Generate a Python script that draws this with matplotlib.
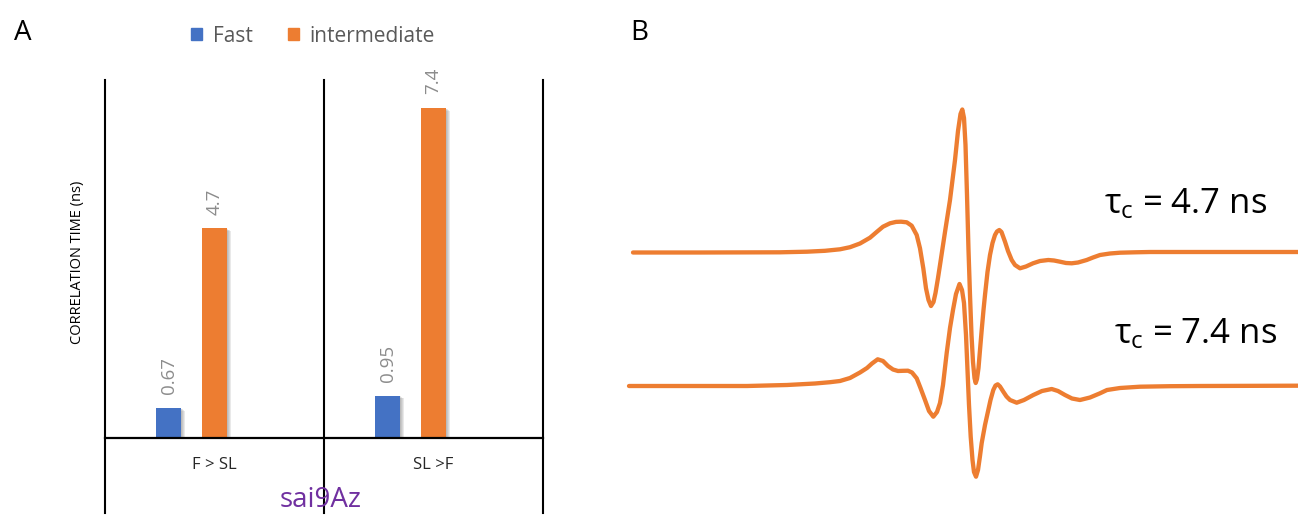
import matplotlib
matplotlib.use("Agg")
import matplotlib.pyplot as plt
import matplotlib.patheffects as pe
from matplotlib.patches import Patch

# ---- panel A data ----
groups = ["F > SL", "SL >F"]
fast = [0.67, 0.95]
intermediate = [4.7, 7.4]
value_labels_fast = ["0.67", "0.95"]
value_labels_int = ["4.7", "7.4"]

# ---- panel B data (field in a.u., intensity relative to baseline) ----
field_47 = [633, 700, 780, 807, 825, 840, 850, 860, 870, 877, 883, 890, 896, 901, 906.7,
            911.7, 916.7, 920, 923.3, 926, 928.5, 931, 933.5, 935.5, 938, 940, 945, 950,
            955, 958, 960.5, 962.3, 964, 965.5, 967, 968.5, 970, 971.5, 973, 974.5, 975.7,
            977, 978.5, 980, 981.7, 983.5, 985, 987.5, 990, 992.5, 995, 997, 999.3, 1001.5,
            1005, 1008, 1011.7, 1015, 1020, 1026, 1033, 1040, 1048.3, 1054, 1060, 1066,
            1071.7, 1078, 1086.7, 1093, 1100, 1110, 1120, 1135, 1150, 1200, 1298]
signal_47 = [0, 0, 0.2, 0.8, 1.7, 3.2, 5.3, 9, 14.8, 20.8, 25.8, 29.2, 30.6, 30.8, 30.2,
             26.8, 17.5, 4.2, -15.8, -35.8, -47.5, -53.5, -49.5, -40.5, -25.5, -12.5, 20.5, 52.5,
             92.5, 121.5, 138.5, 143, 134.5, 107.5, 57.5, 2.5, -42.5, -82.5, -109.5, -125.5, -130.5,
             -126.5, -115.5, -97.5, -77.5, -57.5, -42.5, -19.5, -2.5, 9.5, 17.5, 21, 22.5, 20.5,
             10.8, 1.5, -7.5, -12.5, -15.8, -14, -10.8, -8.5, -7.5, -8, -9.2, -10.5,
             -10.8, -10, -7.5, -5, -2.5, -1, -0.2, 0.2, 0.5, 0.5, 0.5]

field_74 = [629, 700, 747, 787, 815, 830, 840, 850, 860, 867, 872, 877.7, 883, 888, 893,
            898, 903, 908, 912, 916.7, 920.5, 925, 929, 933.3, 937, 940, 943, 946.7, 950,
            953, 956, 959.5, 962, 964, 966, 967.5, 969, 970.7, 972.5, 974, 976, 978, 980,
            981.7, 985, 988.3, 990.5, 993.3, 995.5, 997.7, 1000, 1003.3, 1006.5, 1010, 1016.7,
            1024, 1033.3, 1042, 1051.7, 1058, 1065, 1072, 1080, 1090, 1100, 1107, 1120, 1140,
            1170, 1200, 1298]
signal_74 = [0, 0, 0, 1, 2.5, 3.8, 5, 8, 13.5, 18, 22.5, 26.7, 25, 20, 16.5,
             15, 15.2, 15.3, 13.5, 7.7, -2, -14, -25, -30.7, -26, -17, 1, 33, 58,
             76, 92, 102, 96, 83, 51, 16, -19, -50.7, -74, -86, -90.7, -84, -70,
             -57, -39, -24, -14, -4, 0.5, 1.7, -0.5, -5.7, -10.5, -14, -16.7,
             -14, -9, -5, -3, -5, -9, -12.5, -14, -11.5, -7.3, -4, -2, -0.7,
             -0.2, 0, 0.3]

BLUE = "#4472C4"
ORANGE = "#ED7D31"
W, H = 1298, 523

plt.rcParams["font.family"] = ["Open Sans", "DejaVu Sans"]
plt.rcParams["mathtext.fontset"] = "custom"
plt.rcParams["mathtext.rm"] = "Open Sans"
plt.rcParams["mathtext.it"] = "Open Sans"

fig = plt.figure(figsize=(W / 100, H / 100), dpi=100)

# ---------------- panel A ----------------
ax = fig.add_axes([105 / W, (H - 438) / H, 438 / W, 358 / H])
ax.set_xlim(0, 2)
ax.set_ylim(0, 8.03)

centers = [0.5, 1.5]
bar_w = 0.11
# soft drop shadow, built from a few faint offset copies
shadow = [pe.SimplePatchShadow(offset=(o, -o * 0.6), shadow_rgbFace="#7a7a7a", alpha=0.16)
          for o in (3.2, 2.4, 1.6, 0.8)] + [pe.Normal()]
bars_f = ax.bar([c - 0.21 for c in centers], fast, width=bar_w, color=BLUE, path_effects=shadow, zorder=3)
bars_i = ax.bar(centers, intermediate, width=bar_w, color=ORANGE, path_effects=shadow, zorder=3)

for bars, labels in [(bars_f, value_labels_fast), (bars_i, value_labels_int)]:
    for b, lab in zip(bars, labels):
        ax.annotate(lab, xy=(b.get_x() + b.get_width() / 2, b.get_height()),
                    xytext=(0, 10), textcoords="offset points", rotation=90,
                    ha="center", va="bottom", fontsize=13.5, color="#8c8c8c")

for s in ax.spines.values():
    s.set_visible(False)
for xv in [0, 1, 2]:
    ax.axvline(xv, ymin=-0.21, ymax=1, color="black", lw=1.5, clip_on=False)
ax.axhline(0, color="black", lw=1.6, zorder=4, clip_on=False)

ax.set_yticks([])
ax.set_xticks(centers)
ax.set_xticklabels(groups, fontsize=12, color="#262626")
ax.tick_params(axis="x", length=0, pad=14)

fig.text(78 / W, 1 - 262 / H, "CORRELATION TIME (ns)", rotation=90, ha="center", va="center",
         fontsize=10.5, color="black")
fig.text(321 / W, 1 - 500 / H, "sai9Az", ha="center", va="center", fontsize=20, color="#7030A0")

handles = [Patch(color=BLUE, label="Fast"), Patch(color=ORANGE, label="intermediate")]
fig.legend(handles=handles, loc="center", bbox_to_anchor=(313 / W, 1 - 36 / H), ncol=2,
           frameon=False, fontsize=15, handlelength=0.55, handleheight=0.55, handletextpad=0.5,
           columnspacing=1.7, labelcolor="#595959")

fig.text(23 / W, 1 - 33 / H, "A", ha="center", va="center", fontsize=20, color="black")
fig.text(639 / W, 1 - 33 / H, "B", ha="center", va="center", fontsize=20, color="black")

# ---------------- panel B ----------------
axb = fig.add_axes([620 / W, 0, (W - 620) / W, 1])
axb.set_xlim(620, W)
axb.set_ylim(-270.5, 252.5)
axb.axis("off")
offset_74 = -133.5
axb.plot(field_47, signal_47, color=ORANGE, lw=3.1, solid_joinstyle="round", solid_capstyle="round")
axb.plot(field_74, [v + offset_74 for v in signal_74], color=ORANGE, lw=3.1,
         solid_joinstyle="round", solid_capstyle="round")

axb.text(1104, 39.5, r"$\tau_\mathrm{c}$ = 4.7 ns", fontsize=25, ha="left", va="baseline", color="black")
axb.text(1114, -90.8, r"$\tau_\mathrm{c}$ = 7.4 ns", fontsize=25, ha="left", va="baseline", color="black")

fig.savefig("out.png", dpi=100)
